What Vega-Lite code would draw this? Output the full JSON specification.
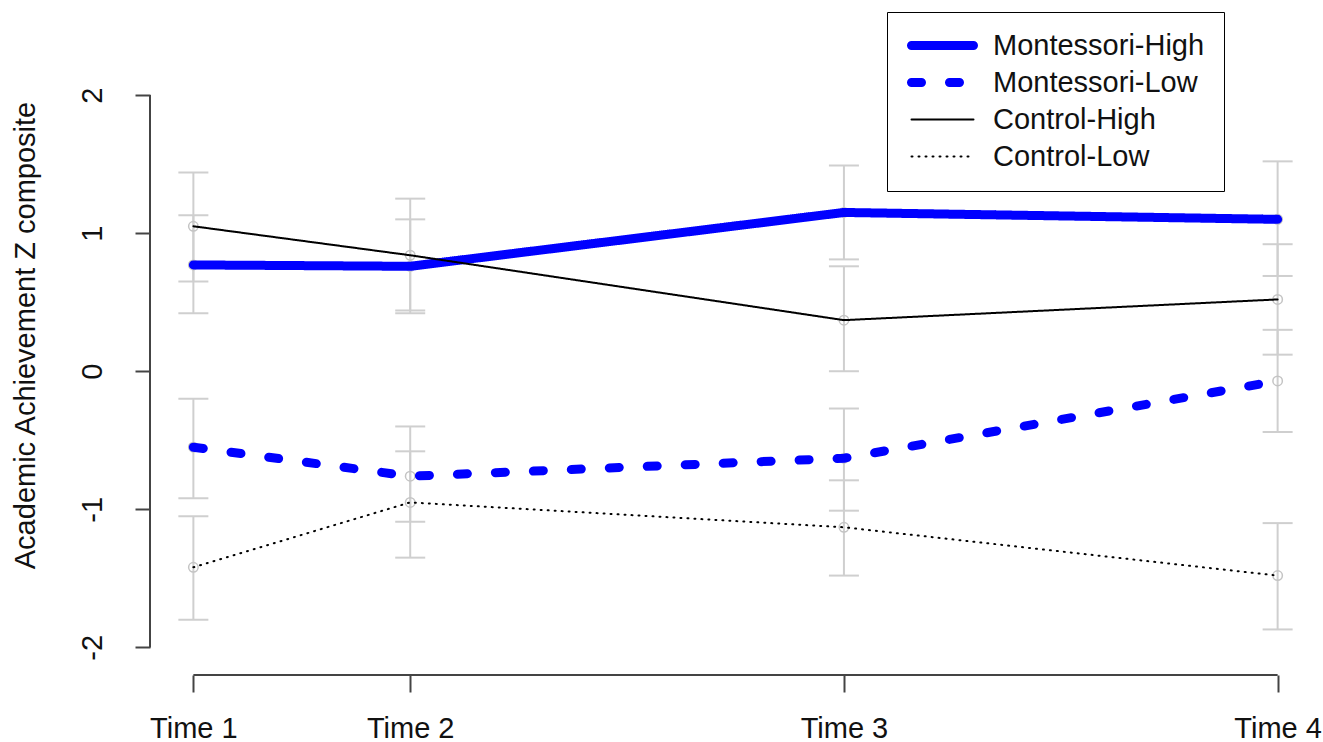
{
  "$schema": "https://vega.github.io/schema/vega-lite/v6.json",
  "width": 1171,
  "height": 602,
  "autosize": {"type": "none"},
  "padding": {"left": 150, "top": 73, "right": 2, "bottom": 67},
  "background": "white",
  "config": {"font": "Liberation Sans", "view": {"stroke": null}},
  "data": {
    "values": [
      {"series": "Montessori-High", "time": 1, "mean": 0.77, "lo": 0.42, "hi": 1.13},
      {"series": "Montessori-High", "time": 2, "mean": 0.76, "lo": 0.42, "hi": 1.10},
      {"series": "Montessori-High", "time": 4, "mean": 1.15, "lo": 0.81, "hi": 1.49},
      {"series": "Montessori-High", "time": 6, "mean": 1.10, "lo": 0.69, "hi": 1.52},
      {"series": "Montessori-Low", "time": 1, "mean": -0.55, "lo": -0.92, "hi": -0.20},
      {"series": "Montessori-Low", "time": 2, "mean": -0.76, "lo": -1.09, "hi": -0.40},
      {"series": "Montessori-Low", "time": 4, "mean": -0.63, "lo": -1.01, "hi": -0.27},
      {"series": "Montessori-Low", "time": 6, "mean": -0.07, "lo": -0.44, "hi": 0.30},
      {"series": "Control-High", "time": 1, "mean": 1.05, "lo": 0.65, "hi": 1.44},
      {"series": "Control-High", "time": 2, "mean": 0.84, "lo": 0.44, "hi": 1.25},
      {"series": "Control-High", "time": 4, "mean": 0.37, "lo": 0.0, "hi": 0.76},
      {"series": "Control-High", "time": 6, "mean": 0.52, "lo": 0.12, "hi": 0.92},
      {"series": "Control-Low", "time": 1, "mean": -1.42, "lo": -1.80, "hi": -1.05},
      {"series": "Control-Low", "time": 2, "mean": -0.95, "lo": -1.35, "hi": -0.58},
      {"series": "Control-Low", "time": 4, "mean": -1.13, "lo": -1.48, "hi": -0.79},
      {"series": "Control-Low", "time": 6, "mean": -1.48, "lo": -1.87, "hi": -1.10}
    ]
  },
  "layer": [
    {
      "data": {"values": [{}]},
      "mark": {"type": "rule", "color": "#444444", "strokeWidth": 2},
      "encoding": {
        "x": {"datum": 0.8, "type": "quantitative"},
        "y": {"datum": -2, "type": "quantitative"},
        "y2": {"datum": 2}
      }
    },
    {
      "data": {"values": [{}]},
      "mark": {"type": "rule", "color": "#444444", "strokeWidth": 2},
      "encoding": {
        "x": {"datum": 1, "type": "quantitative"},
        "x2": {"datum": 6},
        "y": {"datum": -2.2, "type": "quantitative"}
      }
    },
    {
      "mark": {"type": "rule", "color": "#cfcfcf", "strokeWidth": 2},
      "encoding": {
        "x": {"field": "time", "type": "quantitative"},
        "y": {"field": "lo", "type": "quantitative"},
        "y2": {"field": "hi"}
      }
    },
    {
      "mark": {"type": "tick", "orient": "horizontal", "color": "#cfcfcf", "size": 30, "thickness": 2, "opacity": 1},
      "encoding": {
        "x": {"field": "time", "type": "quantitative"},
        "y": {"field": "lo", "type": "quantitative"}
      }
    },
    {
      "mark": {"type": "tick", "orient": "horizontal", "color": "#cfcfcf", "size": 30, "thickness": 2, "opacity": 1},
      "encoding": {
        "x": {"field": "time", "type": "quantitative"},
        "y": {"field": "hi", "type": "quantitative"}
      }
    },
    {
      "mark": {"type": "point", "filled": false, "color": "#c4c4c4", "size": 90, "strokeWidth": 1.5, "opacity": 1},
      "encoding": {
        "x": {"field": "time", "type": "quantitative"},
        "y": {"field": "mean", "type": "quantitative"}
      }
    },
    {
      "mark": {"type": "line", "strokeCap": "round", "strokeJoin": "round"},
      "encoding": {
        "x": {
          "field": "time",
          "type": "quantitative",
          "scale": {"domain": [0.8, 6.2], "nice": false, "zero": false},
          "axis": {
            "values": [1, 2, 4, 6],
            "labelExpr": "'Time ' + (datum.value == 1 ? '1' : datum.value == 2 ? '2' : datum.value == 4 ? '3' : '4')",
            "domain": false,
            "grid": false,
            "ticks": true,
            "tickSize": 17,
            "tickWidth": 2,
            "tickColor": "#444444",
            "labelFontSize": 29,
            "labelColor": "#111111",
            "labelPadding": 22,
            "labelFlush": false,
            "labelOverlap": false,
            "title": null
          }
        },
        "y": {
          "field": "mean",
          "type": "quantitative",
          "scale": {"domain": [-2.2, 2.16], "nice": false, "zero": false},
          "axis": {
            "values": [-2, -1, 0, 1, 2],
            "labelExpr": "'' + datum.value",
            "domain": false,
            "grid": false,
            "tickSize": 15,
            "tickWidth": 2,
            "tickColor": "#444444",
            "labelAngle": -90,
            "labelAlign": "center",
            "labelBaseline": "bottom",
            "labelFontSize": 29,
            "labelColor": "#111111",
            "labelPadding": 28,
            "labelFlush": false,
            "labelOverlap": false,
            "title": "Academic Achievement Z composite",
            "titleFontSize": 29,
            "titleFontWeight": "normal",
            "titleColor": "#111111",
            "titleAngle": -90,
            "titleBaseline": "alphabetic",
            "titleAlign": "center",
            "titleX": -116,
            "titleY": 262
          }
        },
        "color": {
          "field": "series",
          "type": "nominal",
          "scale": {"domain": ["Montessori-High", "Montessori-Low", "Control-High", "Control-Low"], "range": ["#0000ff", "#0000ff", "#000000", "#000000"]},
          "legend": {"orient": "none", "legendX": 737, "legendY": -61, "title": null, "symbolType": "M-1.8,0H10.6", "symbolSize": 100, "labelFontSize": 29, "labelLimit": 500, "labelColor": "#111111", "labelOffset": 58, "gridAlign": "all", "rowPadding": 0, "padding": 19, "strokeColor": "#000000", "fillColor": "#ffffff", "encode": {"symbols": {"update": {"strokeCap": {"value": "round"}}}}}
        },
        "strokeDash": {
          "field": "series",
          "type": "nominal",
          "scale": {"domain": ["Montessori-High", "Montessori-Low", "Control-High", "Control-Low"], "range": [[1, 0], [10, 28], [1, 0], [1, 6]]},
          "legend": {"orient": "none", "legendX": 737, "legendY": -61, "title": null, "symbolType": "M-1.8,0H10.6", "symbolSize": 100, "labelFontSize": 29, "labelLimit": 500, "labelColor": "#111111", "labelOffset": 58, "gridAlign": "all", "rowPadding": 0, "padding": 19, "strokeColor": "#000000", "fillColor": "#ffffff", "encode": {"symbols": {"update": {"strokeCap": {"value": "round"}}}}}
        },
        "strokeWidth": {
          "field": "series",
          "type": "nominal",
          "scale": {"type": "ordinal", "domain": ["Montessori-High", "Montessori-Low", "Control-High", "Control-Low"], "range": [9, 9, 2, 2]},
          "legend": {"orient": "none", "legendX": 737, "legendY": -61, "title": null, "symbolType": "M-1.8,0H10.6", "symbolSize": 100, "labelFontSize": 29, "labelLimit": 500, "labelColor": "#111111", "labelOffset": 58, "gridAlign": "all", "rowPadding": 0, "padding": 19, "strokeColor": "#000000", "fillColor": "#ffffff", "encode": {"symbols": {"update": {"strokeCap": {"value": "round"}}}}}
        }
      }
    }
  ]
}
